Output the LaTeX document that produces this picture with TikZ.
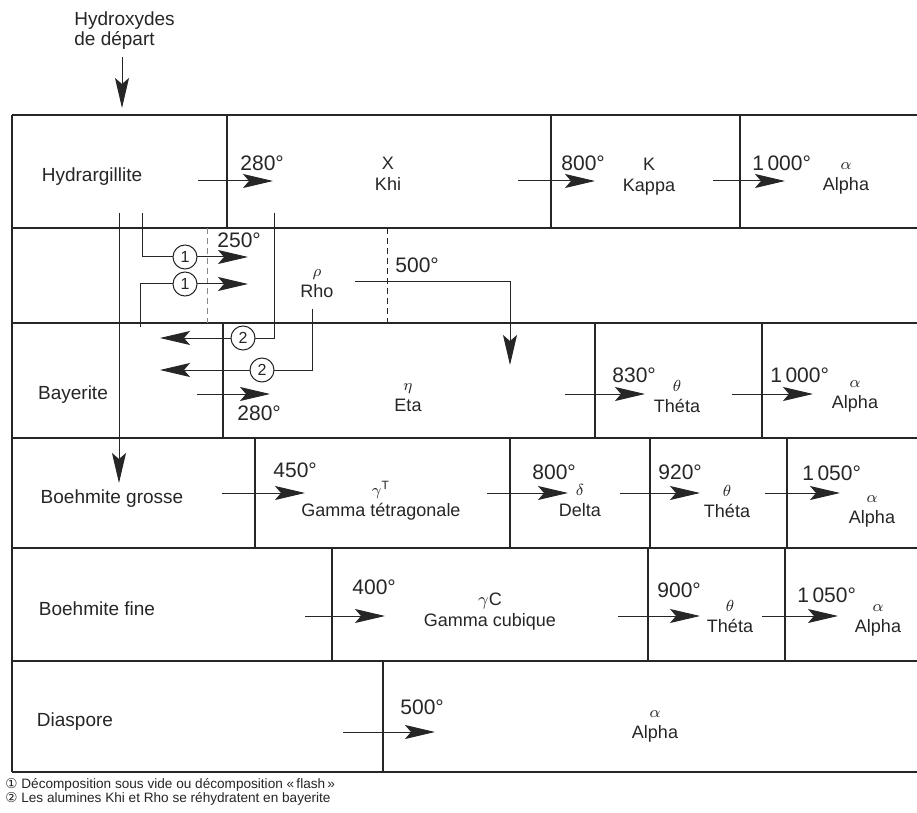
\documentclass[tikz,border=0pt]{standalone}
\usepackage{fontspec}
\setmainfont{Liberation Sans}
\newfontfamily\symbfont{DejaVu Sans}
\usetikzlibrary{arrows.meta}
\definecolor{encre}{HTML}{262626}
\newcommand{\grec}[1]{{\fontsize{8}{9}\selectfont$#1$}}

\begin{document}
\begin{tikzpicture}[x=0.5pt,y=-0.5pt,
  trait/.style={draw=encre, line width=0.6pt},
  pointille/.style={draw=encre, line width=0.45pt, dash pattern=on 3pt off 2pt},
  fleche/.style={draw=encre, line width=0.5pt,
                 -{Stealth[length=15pt,width=7pt,inset=3pt]}},
  nom/.style={font=\fontsize{9.5}{11}\selectfont, text=encre, inner sep=0pt},
  phase/.style={font=\fontsize{9}{10.5}\selectfont, text=encre, align=center,
                inner sep=0pt},
  temp/.style={font=\fontsize{10.5}{12}\selectfont, text=encre, anchor=west,
               inner sep=0pt},
  rond/.style={circle, draw=encre, fill=white, line width=0.5pt, inner sep=0pt,
               minimum size=12pt, font=\fontsize{8}{8}\selectfont, text=encre},
  note/.style={font=\fontsize{6.8}{8}\selectfont, text=encre, anchor=west,
               inner sep=0pt}
]
\useasboundingbox (0,0) rectangle (917,813);
\fill[white] (0,0) rectangle (917,813);

\foreach \y in {115,228,323,438,548,661,772}
  \draw[trait] (12,\y) -- (917,\y);
\draw[trait] (12,115) -- (12,772);
\foreach \x/\ya/\yb in {227/115/228, 551/115/228, 740/115/228,
    223/323/438, 595/323/438, 762/323/438,
    255/438/548, 510/438/548, 650/438/548, 787/438/548,
    332/548/661, 648/548/661, 785/548/661, 383/661/772}
  \draw[trait] (\x,\ya) -- (\x,\yb);
\draw[pointille, draw=encre!55] (207,228) -- (207,323);
\draw[pointille] (387,228) -- (387,323);

\node[align=left, anchor=west, inner sep=0pt, text=encre,
      font=\fontsize{9.5}{10}\selectfont] (hydrox) at (74,31)
  {Hydroxydes\\de départ};
\coordinate (entree) at (122,108);
\draw[fleche] (hydrox.south -| entree) ++(0,7) -- (entree);

\node[nom] (hydrar) at (92,177) {Hydrargillite};
\node[temp] (t280a) at (240,163) {280°};
\node[phase] (khi) at (388,174) {X\\Khi};
\node[temp] (t800a) at (561,163) {800°};
\node[phase] (kappa) at (649,177) {K\\Kappa};
\node[temp] (t1000a) at (752,163) {1\,000°};
\node[phase] (alpha1) at (846,178) {\grec{\alpha}\\Alpha};

\node[temp] (t250) at (217,240) {250°};
\node[phase] (rho) at (317,284) {\grec{\rho}\\Rho};
\node[temp] (t500a) at (395,265) {500°};

\node[nom] (bayer) at (73,395) {Bayerite};
\node[temp] (t280b) at (237,413) {280°};
\node[phase] (eta) at (408,398) {\grec{\eta}\\Eta};
\node[temp] (t830) at (612,375) {830°};
\node[phase] (theta1) at (677,397) {\grec{\theta}\\Théta};
\node[temp] (t1000b) at (770,375) {1\,000°};
\node[phase] (alpha2) at (855,396) {\grec{\alpha}\\Alpha};

\node[nom] (bgros) at (112,499) {Boehmite grosse};
\node[temp] (t450) at (273,470) {450°};
\node[phase] (gammaT) at (381,501) {\grec{\gamma^{\mathrm{T}}}\\Gamma tétragonale};
\node[temp] (t800b) at (532,472) {800°};
\node[phase] (delta) at (580,501) {\grec{\delta}\\Delta};
\node[temp] (t920) at (658,472) {920°};
\node[phase] (theta2) at (727,502) {\grec{\theta}\\Théta};
\node[temp] (t1050a) at (802,473) {1\,050°};
\node[phase] (alpha3) at (872,511) {\grec{\alpha}\\Alpha};

\node[nom] (bfine) at (97,609) {Boehmite fine};
\node[temp] (t400) at (352,587) {400°};
\node[phase] (gammaC) at (490,612) {$\gamma$C\\Gamma cubique};
\node[temp] (t900) at (657,590) {900°};
\node[phase] (theta3) at (730,617) {\grec{\theta}\\Théta};
\node[temp] (t1050b) at (797,595) {1\,050°};
\node[phase] (alpha4) at (878,620) {\grec{\alpha}\\Alpha};

\node[nom] (diasp) at (75,722) {Diaspore};
\node[temp] (t500b) at (400,707) {500°};
\node[phase] (alpha5) at (655,726) {\grec{\alpha}\\Alpha};

\foreach \n/\xa/\xb/\y in {h1/198/273/181, h2/518/595/181, h3/713/785/181,
    b1/197/270/394, b2/565/645/394, b3/732/813/394,
    g1/222/305/493, g2/487/568/493, g3/620/700/493, g4/765/840/493,
    f1/305/385/616, f2/618/700/616, f3/762/838/616,
    d1/343/435/732}
{
  \coordinate (\n d) at (\xa,\y);
  \coordinate (\n f) at (\xb,\y);
  \draw[fleche] (\n d) -- (\n f);
}

\coordinate (hbas) at (119,213);
\coordinate (bhaut) at (119,483);
\draw[fleche] (hbas) -- (bhaut);

\coordinate (v1a) at (142,213);
\coordinate (v1b) at (248,257);
\draw[fleche] (v1a) |- (v1b);
\node[rond] (un1) at (185,257) {1};
\coordinate (v2a) at (140,327);
\coordinate (v2b) at (248,284);
\draw[fleche] (v2a) |- (v2b);
\node[rond] (un2) at (185,284) {1};

\coordinate (k1a) at (274,213);
\coordinate (k1b) at (160,338);
\draw[fleche] (k1a) |- (k1b);
\node[rond] (deux1) at (243,338) {2};
\coordinate (r1a) at (312,309);
\coordinate (r1b) at (160,370);
\draw[fleche] (r1a) |- (r1b);
\node[rond] (deux2) at (262,370) {2};

\coordinate (e5a) at (355,282);
\coordinate (e5b) at (510,365);
\draw[fleche] (e5a) -| (e5b);

\node[note] (note1) at (5,785)
  {{\symbfont ①} Décomposition sous vide ou décomposition «\,flash\,»};
\node[note] (note2) at (5,799)
  {{\symbfont ②} Les alumines Khi et Rho se réhydratent en bayerite};
\end{tikzpicture}
\end{document}
